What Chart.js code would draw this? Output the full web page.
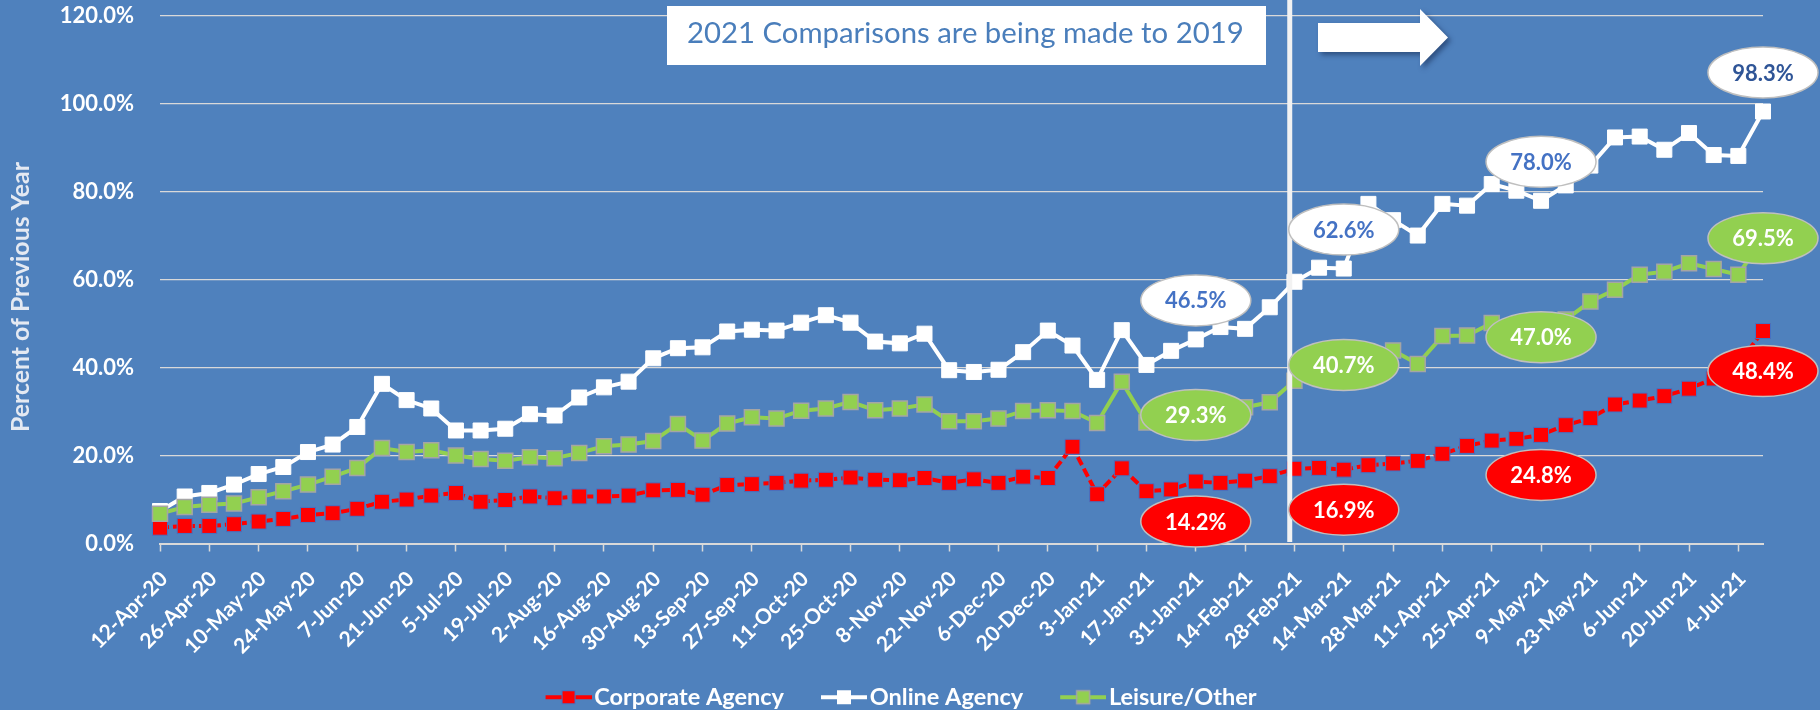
<!DOCTYPE html>
<html><head><meta charset="utf-8">
<script src="https://cdn.jsdelivr.net/npm/chart.js@4.4.1/dist/chart.umd.min.js"></script>
<style>
html,body{margin:0;padding:0;background:#4F81BD;}
canvas{display:block;}
</style></head><body>
<canvas id="c" width="1820" height="710"></canvas>
<script>
const weeks = ['12-Apr-20','19-Apr-20','26-Apr-20','3-May-20','10-May-20','17-May-20','24-May-20','31-May-20',
'7-Jun-20','14-Jun-20','21-Jun-20','28-Jun-20','5-Jul-20','12-Jul-20','19-Jul-20','26-Jul-20',
'2-Aug-20','9-Aug-20','16-Aug-20','23-Aug-20','30-Aug-20','6-Sep-20','13-Sep-20','20-Sep-20',
'27-Sep-20','4-Oct-20','11-Oct-20','18-Oct-20','25-Oct-20','1-Nov-20','8-Nov-20','15-Nov-20',
'22-Nov-20','29-Nov-20','6-Dec-20','13-Dec-20','20-Dec-20','27-Dec-20','3-Jan-21','10-Jan-21',
'17-Jan-21','24-Jan-21','31-Jan-21','7-Feb-21','14-Feb-21','21-Feb-21','28-Feb-21','7-Mar-21',
'14-Mar-21','21-Mar-21','28-Mar-21','4-Apr-21','11-Apr-21','18-Apr-21','25-Apr-21','2-May-21',
'9-May-21','16-May-21','23-May-21','30-May-21','6-Jun-21','13-Jun-21','20-Jun-21','27-Jun-21',
'4-Jul-21','11-Jul-21'];

const corporateAgency = [3.7,4.1,4.1,4.5,5.1,5.7,6.6,7.0,8.0,9.6,10.1,11.0,11.6,9.6,10.0,10.8,
10.4,10.8,10.8,11.0,12.2,12.3,11.2,13.4,13.6,13.9,14.4,14.6,15.1,14.6,14.5,15.0,
13.9,14.7,13.9,15.3,15.0,22.1,11.3,17.2,12.0,12.4,14.2,13.9,14.4,15.4,17.1,17.3,
16.9,17.9,18.3,18.9,20.5,22.3,23.5,23.9,24.8,27.0,28.6,31.7,32.6,33.6,35.3,37.6,
41.0,48.4];

const onlineAgency = [7.5,10.8,11.6,13.5,15.9,17.5,20.9,22.6,26.6,36.4,32.7,30.8,25.8,25.8,26.2,29.5,
29.2,33.3,35.6,36.9,42.2,44.5,44.7,48.3,48.7,48.5,50.3,52.0,50.3,46.0,45.6,47.8,
39.5,39.1,39.6,43.6,48.5,45.1,37.3,48.6,40.7,43.9,46.5,49.3,48.9,53.8,59.6,62.8,
62.6,77.3,73.6,70.1,77.3,76.9,81.8,80.3,78.0,81.5,86.0,92.4,92.6,89.6,93.4,88.4,
88.2,98.3];

const leisureOther = [6.9,8.4,8.9,9.2,10.6,12.0,13.5,15.3,17.3,21.8,20.9,21.3,20.1,19.3,18.9,19.7,
19.5,20.7,22.2,22.6,23.4,27.3,23.5,27.4,28.8,28.5,30.3,30.8,32.3,30.4,30.8,31.7,
27.9,27.9,28.5,30.2,30.4,30.2,27.5,36.9,27.6,28.5,29.3,30.5,31.1,32.2,37.1,39.0,
40.7,42.5,44.0,40.9,47.3,47.4,50.2,49.0,47.0,51.0,55.1,57.8,61.2,61.9,63.8,62.5,
61.2,69.5];

const seriesNames = ['Corporate Agency','Online Agency','Leisure/Other'];
const labeledWeeks = ['31-Jan-21','14-Mar-21','9-May-21','11-Jul-21'];
const dividerWeek = '28-Feb-21';
const noteText = '2021 Comparisons are being made to 2019';
const yTitle = 'Percent of Previous Year';
const yMin = 0, yMax = 120, yStep = 20;

const BG = '#4F81BD', GRID = '#D9D9D9';
const RED = '#FF0000', WHITE = '#FFFFFF', GREEN = '#92D050';

// legend icon: transparent canvas with the line+marker sample drawn at its right end
const LEG_BOX = 64, LEG_CANVAS = 82;
function legendIcon(lineColor, fill, border, bw) {
  const c = document.createElement('canvas');
  c.width = LEG_CANVAS; c.height = 20;
  const g = c.getContext('2d');
  const x0 = LEG_CANVAS - 46;
  g.strokeStyle = lineColor; g.lineWidth = 4;
  g.beginPath(); g.moveTo(x0, 10); g.lineTo(x0 + 46, 10); g.stroke();
  g.fillStyle = fill; g.fillRect(x0 + 16, 3, 14, 14);
  g.strokeStyle = border; g.lineWidth = bw; g.strokeRect(x0 + 16.5, 3.5, 13, 13);
  return c;
}
const icons = [legendIcon(RED, RED, '#4472C4', 1), legendIcon(WHITE, WHITE, WHITE, 1), legendIcon(GREEN, GREEN, '#A5A5A5', 1.5)];

const bubbleStyles = [
  {fill: RED, text: '#FFFFFF', dy: 40},
  {fill: WHITE, text: '#4472C4', lastText: '#2F5597', dy: -39},
  {fill: GREEN, text: '#FFFFFF', dy: 0}
];

const bgPlugin = {
  id: 'bg',
  beforeDraw(chart) {
    const ctx = chart.ctx;
    ctx.save(); ctx.fillStyle = BG; ctx.fillRect(0, 0, chart.width, chart.height); ctx.restore();
  }
};

const annotPlugin = {
  id: 'annot',
  afterDatasetsDraw(chart) {
    const ctx = chart.ctx, xs = chart.scales.x, ys = chart.scales.y;
    ctx.save();
    // divider line
    const xd = xs.getPixelForValue(weeks.indexOf(dividerWeek) - 0.19);
    ctx.strokeStyle = '#F2F2F2'; ctx.lineWidth = 5;
    ctx.beginPath(); ctx.moveTo(xd, 0); ctx.lineTo(xd, ys.getPixelForValue(0) - 2); ctx.stroke();

    // bubbles
    ctx.font = 'bold 22px Lato';
    ctx.textAlign = 'center'; ctx.textBaseline = 'middle';
    chart.data.datasets.forEach((ds, di) => {
      const st = bubbleStyles[di];
      labeledWeeks.forEach((w, k) => {
        const i = weeks.indexOf(w);
        const v = ds.data[i];
        const px = xs.getPixelForValue(i), py = ys.getPixelForValue(v) + st.dy;
        ctx.beginPath(); ctx.ellipse(px, py, 55, 25.5, 0, 0, Math.PI * 2);
        ctx.fillStyle = st.fill; ctx.fill();
        ctx.strokeStyle = '#BFBFBF'; ctx.lineWidth = 1.5; ctx.stroke();
        ctx.fillStyle = (k === labeledWeeks.length - 1 && st.lastText) ? st.lastText : st.text;
        ctx.fillText(v.toFixed(1) + '%', px, py + 1);
      });
    });

    // note box
    ctx.fillStyle = '#FFFFFF';
    ctx.fillRect(667, 6, 599, 59);
    let fs = 30;
    ctx.font = fs + 'px Lato';
    const tw = ctx.measureText(noteText).width;
    fs = fs * 557 / tw;
    ctx.font = fs.toFixed(2) + 'px Lato';
    ctx.fillStyle = '#4A7EBB';
    ctx.textAlign = 'left'; ctx.textBaseline = 'alphabetic';
    ctx.fillText(noteText, 687, 43);

    // arrow
    ctx.save();
    ctx.shadowColor = 'rgba(20,40,80,0.55)'; ctx.shadowBlur = 5; ctx.shadowOffsetX = 3; ctx.shadowOffsetY = 3;
    ctx.fillStyle = '#FFFFFF';
    ctx.beginPath();
    ctx.moveTo(1318, 23); ctx.lineTo(1420, 23); ctx.lineTo(1420, 9); ctx.lineTo(1448, 37.5);
    ctx.lineTo(1420, 66); ctx.lineTo(1420, 52); ctx.lineTo(1318, 52); ctx.closePath();
    ctx.fill();
    ctx.restore();
    ctx.restore();
  },
  afterDraw(chart) {
    const ctx = chart.ctx;
    ctx.save();
    ctx.translate(21, 297); ctx.rotate(-Math.PI / 2);
    ctx.font = 'bold 21px Lato';
    const w = ctx.measureText(yTitle).width;
    const fs = 21 * 270 / w;
    ctx.font = 'bold ' + fs.toFixed(2) + 'px Lato';
    ctx.fillStyle = '#E4E9F2';
    ctx.textAlign = 'center'; ctx.textBaseline = 'middle';
    ctx.fillText(yTitle, 0, 0);
    ctx.restore();
  }
};

Chart.defaults.font.family = 'Lato';

new Chart(document.getElementById('c'), {
  type: 'line',
  data: {
    labels: weeks,
    datasets: [
      {label: seriesNames[0], data: corporateAgency, borderColor: RED, backgroundColor: RED,
       borderWidth: 4, borderDash: [9, 4], pointStyle: 'rect', pointRadius: 10.6,
       pointBackgroundColor: RED, pointBorderColor: '#4472C4', pointBorderWidth: 1, order: 2},
      {label: seriesNames[1], data: onlineAgency, borderColor: WHITE, backgroundColor: WHITE,
       borderWidth: 4, pointStyle: 'rect', pointRadius: 10.6,
       pointBackgroundColor: WHITE, pointBorderColor: WHITE, pointBorderWidth: 1, order: 1},
      {label: seriesNames[2], data: leisureOther, borderColor: GREEN, backgroundColor: GREEN,
       borderWidth: 4, pointStyle: 'rect', pointRadius: 10.6,
       pointBackgroundColor: GREEN, pointBorderColor: '#A5A5A5', pointBorderWidth: 1.5, order: 0}
    ]
  },
  options: {
    responsive: false,
    animation: false,
    devicePixelRatio: 1,
    layout: {padding: {top: 16, right: 57, bottom: -9, left: 12}},
    scales: {
      x: {
        offset: false,
        grid: {drawOnChartArea: false, tickLength: 7.5, tickWidth: 1.5,
               tickColor: (c) => (c.index % 2 ? 'rgba(0,0,0,0)' : GRID)},
        border: {display: true, color: GRID, width: 2},
        ticks: {autoSkip: false, maxRotation: 45, minRotation: 45, color: '#FFFFFF',
                font: {size: 21, weight: 'bold'}, padding: 15, labelOffset: 4,
                callback: function(v, i) { return i % 2 ? '' : weeks[i]; }},
        afterFit: (s) => { s.height = 131.5; }
      },
      y: {
        min: yMin, max: yMax,
        grid: {color: GRID, lineWidth: 1.2, drawTicks: true, tickLength: 26, tickColor: 'rgba(0,0,0,0)'},
        border: {display: false},
        ticks: {stepSize: yStep, color: '#FFFFFF', padding: 0, font: {size: 22, weight: 'bold'},
                callback: (v) => v.toFixed(1) + '%'},
        afterFit: (s) => { s.width = 148; }
      }
    },
    plugins: {
      tooltip: {enabled: false},
      legend: {
        position: 'bottom',
        labels: {
          color: '#FFFFFF', font: {size: 23.5, weight: 'bold'},
          usePointStyle: true, pointStyleWidth: LEG_BOX, padding: 10,
          sort: (a, b) => a.datasetIndex - b.datasetIndex,
          generateLabels: (chart) => {
            const items = Chart.defaults.plugins.legend.labels.generateLabels(chart);
            items.forEach(it => { it.pointStyle = icons[it.datasetIndex]; it.lineDash = []; });
            return items;
          }
        }
      }
    }
  },
  plugins: [bgPlugin, annotPlugin]
});
</script>
</body></html>
